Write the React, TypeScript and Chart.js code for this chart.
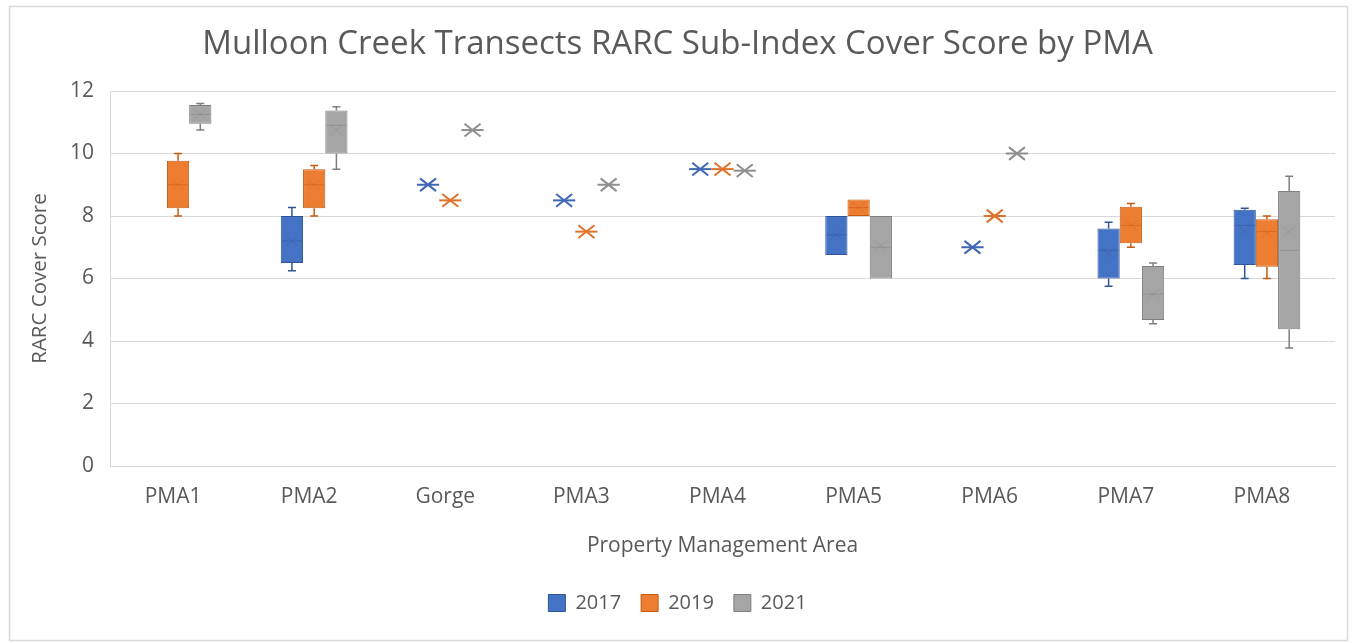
import React, { useEffect, useRef } from 'react';
import { Chart, registerables } from 'chart.js';
Chart.register(...registerables);

const categories = ['PMA1', 'PMA2', 'Gorge', 'PMA3', 'PMA4', 'PMA5', 'PMA6', 'PMA7', 'PMA8'];
const years = ['2017', '2019', '2021'];

const min2017 = [null, 6.25, 9.0, 8.5, 9.5, 6.75, 7.0, 5.75, 6.0];
const q1_2017 = [null, 6.5, 9.0, 8.5, 9.5, 6.75, 7.0, 6.0, 6.43];
const med2017 = [null, 7.2, 9.0, 8.5, 9.5, 7.4, 7.0, 6.9, 7.7];
const q3_2017 = [null, 8.0, 9.0, 8.5, 9.5, 8.0, 7.0, 7.6, 8.2];
const max2017 = [null, 8.27, 9.0, 8.5, 9.5, 8.0, 7.0, 7.8, 8.25];
const mean2017 = [null, 7.2, 9.0, 8.5, 9.5, 7.4, 7.0, 6.8, 7.5];

const min2019 = [8.0, 8.0, 8.5, 7.5, 9.5, 8.0, 8.0, 7.0, 6.0];
const q1_2019 = [8.25, 8.25, 8.5, 7.5, 9.5, 8.0, 8.0, 7.13, 6.38];
const med2019 = [9.0, 9.0, 8.5, 7.5, 9.5, 8.27, 8.0, 7.7, 7.5];
const q3_2019 = [9.77, 9.5, 8.5, 7.5, 9.5, 8.53, 8.0, 8.3, 7.9];
const max2019 = [10.0, 9.62, 8.5, 7.5, 9.5, 8.53, 8.0, 8.4, 8.0];
const mean2019 = [9.0, 9.0, 8.5, 7.5, 9.5, 8.27, 8.0, 7.7, 7.45];

const min2021 = [10.75, 9.5, 10.75, 9.0, 9.45, 6.0, 10.0, 4.55, 3.78];
const q1_2021 = [10.95, 10.0, 10.75, 9.0, 9.45, 6.0, 10.0, 4.67, 4.38];
const med2021 = [11.25, 10.9, 10.75, 9.0, 9.45, 7.0, 10.0, 5.5, 6.9];
const q3_2021 = [11.55, 11.38, 10.75, 9.0, 9.45, 8.0, 10.0, 6.4, 8.8];
const max2021 = [11.6, 11.5, 10.75, 9.0, 9.45, 8.0, 10.0, 6.5, 9.27];
const mean2021 = [11.25, 10.75, 10.75, 9.0, 9.45, 7.05, 10.0, 5.5, 7.5];

const yTicks = [0, 2, 4, 6, 8, 10, 12];

const fillColors = ['#4472C4', '#ED7D31', '#A5A5A5'];
const edgeColors = ['#2F5597', '#C55A11', '#7F7F7F'];
const markColors = ['#3F67B5', '#E0712A', '#8F8F8F'];

const FONT = "'Open Sans', sans-serif";
const TEXT = '#595959';
const GRID = '#D9D9D9';

export default function App() {
  const ref = useRef<HTMLCanvasElement>(null);

  useEffect(() => {
    const stats = [
      { min: min2017, q1: q1_2017, med: med2017, q3: q3_2017, max: max2017, mean: mean2017 },
      { min: min2019, q1: q1_2019, med: med2019, q3: q3_2019, max: max2019, mean: mean2019 },
      { min: min2021, q1: q1_2021, med: med2021, q3: q3_2021, max: max2021, mean: mean2021 },
    ];

    const framePlugin = {
      id: 'frame',
      beforeDraw(chart: any) {
        const ctx = chart.ctx;
        ctx.save();
        ctx.fillStyle = '#ffffff';
        ctx.fillRect(0, 0, chart.width, chart.height);
        ctx.strokeStyle = GRID;
        ctx.lineWidth = 1.5;
        ctx.strokeRect(9.5, 6.5, 1338, 634);
        ctx.restore();
      },
    };

    const drawX = (ctx: any, x: number, y: number, r: number) => {
      ctx.beginPath();
      ctx.moveTo(x - r, y - r * 0.8);
      ctx.lineTo(x + r, y + r * 0.8);
      ctx.moveTo(x - r, y + r * 0.8);
      ctx.lineTo(x + r, y - r * 0.8);
      ctx.stroke();
    };

    const boxPlugin = {
      id: 'boxWhiskers',
      afterDatasetsDraw(chart: any) {
        const ctx = chart.ctx;
        const ys = chart.scales.y;
        ctx.save();
        stats.forEach((s, di) => {
          const meta = chart.getDatasetMeta(di);
          meta.data.forEach((bar: any, j: number) => {
            if (s.q1[j] == null) return;
            const { x, width } = bar.getProps(['x', 'width'], true);
            const half = width / 2;
            const yMin = ys.getPixelForValue(s.min[j]);
            const yQ1 = ys.getPixelForValue(s.q1[j]);
            const yMed = ys.getPixelForValue(s.med[j]);
            const yQ3 = ys.getPixelForValue(s.q3[j]);
            const yMax = ys.getPixelForValue(s.max[j]);
            const yMean = ys.getPixelForValue(s.mean[j]);
            const single = s.q1[j] === s.q3[j];
            if (single) {
              ctx.strokeStyle = markColors[di];
              ctx.lineWidth = 2;
              ctx.beginPath();
              ctx.moveTo(x - half, yMean);
              ctx.lineTo(x + half, yMean);
              ctx.stroke();
              drawX(ctx, x, yMean, 8);
              return;
            }
            ctx.strokeStyle = edgeColors[di];
            ctx.lineWidth = 1.5;
            const cap = 4;
            if (yMax < yQ3 - 0.5) {
              ctx.beginPath();
              ctx.moveTo(x, yQ3);
              ctx.lineTo(x, yMax);
              ctx.moveTo(x - cap, yMax);
              ctx.lineTo(x + cap, yMax);
              ctx.stroke();
            }
            if (yMin > yQ1 + 0.5) {
              ctx.beginPath();
              ctx.moveTo(x, yQ1);
              ctx.lineTo(x, yMin);
              ctx.moveTo(x - cap, yMin);
              ctx.lineTo(x + cap, yMin);
              ctx.stroke();
            }
            ctx.globalAlpha = 0.5;
            ctx.lineWidth = 1;
            ctx.beginPath();
            ctx.moveTo(x - half + 1, yMed);
            ctx.lineTo(x + half - 1, yMed);
            ctx.stroke();
            ctx.globalAlpha = 0.3;
            drawX(ctx, x, yMean, 6);
            ctx.globalAlpha = 1;
          });
        });
        ctx.restore();
      },
    };

    const boxData = (q1: (number | null)[], q3: (number | null)[]) =>
      q1.map((v, i) => (v == null ? null : [v, q3[i] as number]));

    const chart = new Chart(ref.current as HTMLCanvasElement, {
      type: 'bar',
      data: {
        labels: categories,
        datasets: [
          { label: years[0], data: boxData(q1_2017, q3_2017) as any, backgroundColor: fillColors[0], borderColor: edgeColors[0], borderWidth: 1, borderSkipped: false },
          { label: years[1], data: boxData(q1_2019, q3_2019) as any, backgroundColor: fillColors[1], borderColor: edgeColors[1], borderWidth: 1, borderSkipped: false },
          { label: years[2], data: boxData(q1_2021, q3_2021) as any, backgroundColor: fillColors[2], borderColor: edgeColors[2], borderWidth: 1, borderSkipped: false },
        ],
      },
      options: {
        responsive: false,
        animation: false,
        events: [],
        datasets: { bar: { categoryPercentage: 0.49, barPercentage: 1.0, grouped: true } },
        layout: { padding: { left: 20, right: 18, top: 0, bottom: 20 } },
        plugins: {
          tooltip: { enabled: false },
          title: {
            display: true,
            text: 'Mulloon Creek Transects RARC Sub-Index Cover Score by PMA',
            color: TEXT,
            font: { family: FONT, size: 33, weight: 'normal' },
            padding: { top: 25, bottom: 26.4 },
          },
          legend: {
            display: true,
            position: 'bottom',
            labels: {
              color: TEXT,
              font: { family: FONT, size: 20 },
              boxWidth: 17,
              boxHeight: 17,
              padding: 20,
            },
          },
        },
        scales: {
          x: {
            afterFit: (s: any) => { s.height = 107; },
            grid: { display: false, drawTicks: false },
            border: { display: true, color: GRID, width: 1 },
            ticks: { color: TEXT, font: { family: FONT, size: 21 }, padding: 18.5, labelOffset: -5 },
            title: {
              display: true,
              text: 'Property Management Area',
              color: TEXT,
              font: { family: FONT, size: 21 },
              padding: { top: 0, bottom: 14 },
            },
          },
          y: {
            min: 0,
            max: 12,
            afterFit: (s: any) => { s.width = 90; },
            afterBuildTicks: (s: any) => { s.ticks = yTicks.map((v) => ({ value: v })); },
            grid: { color: GRID, lineWidth: 1, drawTicks: false },
            border: { display: true, color: GRID, width: 1 },
            ticks: { color: TEXT, font: { family: FONT, size: 21 }, padding: 16 },
            title: {
              display: true,
              text: 'RARC Cover Score',
              color: TEXT,
              font: { family: FONT, size: 20.5 },
              padding: { top: 7.7, bottom: 0 },
            },
          },
        },
      },
      plugins: [framePlugin, boxPlugin],
    } as any);

    return () => chart.destroy();
  }, []);

  return (
    <div style={{ position: 'absolute', left: 0, top: 0, width: 1353, height: 643, background: '#fff' }}>
      <canvas ref={ref} width={1353} height={643} style={{ display: 'block', width: 1353, height: 643 }} />
    </div>
  );
}
